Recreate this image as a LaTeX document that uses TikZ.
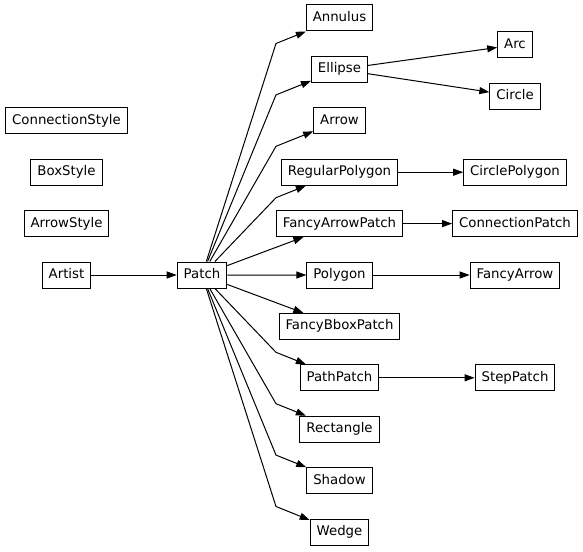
\documentclass[tikz,border=0pt]{standalone}
\usepackage{fontspec}
\setmainfont{DejaVu Sans}
\usetikzlibrary{arrows.meta,calc}

\begin{document}
\begin{tikzpicture}[
        x=1pt, y=1pt,
        node distance=51.4pt,
        box/.style={rectangle, draw, line width=1pt, minimum height=26pt, inner xsep=6.5pt, text height=10pt, text depth=3pt, font=\fontsize{13.3}{16}\selectfont},
        arrow/.style={-{Triangle[length=10pt,width=7pt]}, line width=1pt}
    ]
    \useasboundingbox (0,0) rectangle (583,-551);

    % Left column
    \node[box] (artist) at (66.5,-275) {Artist};
    \node[box, above of=artist] (arrowstyle) {ArrowStyle};
    \node[box, above of=arrowstyle] (boxstyle) {BoxStyle};
    \node[box, above of=boxstyle] (connstyle) {ConnectionStyle};
    \node[box, right of=artist, xshift=84.1pt] (patch) {Patch};

    % Subclasses of Patch
    \node[box] (annulus) at (339.5,-18) {Annulus};
    \node[box, below of=annulus] (ellipse) {Ellipse};
    \node[box, below of=ellipse] (arrowcls) {Arrow};
    \node[box, below of=arrowcls] (regpoly) {RegularPolygon};
    \node[box, below of=regpoly] (fancyarrowpatch) {FancyArrowPatch};
    \node[box, below of=fancyarrowpatch] (polygon) {Polygon};
    \node[box, below of=polygon] (fancybbox) {FancyBboxPatch};
    \node[box, below of=fancybbox] (pathpatch) {PathPatch};
    \node[box, below of=pathpatch] (rectangle) {Rectangle};
    \node[box, below of=rectangle] (shadow) {Shadow};
    \node[box, below of=shadow] (wedge) {Wedge};

    % Right column
    \node[box] (arc) at (515,-45) {Arc};
    \node[box] (circle) at (515,-96) {Circle};
    \node[box, right of=regpoly, xshift=124.1pt] (circpoly) {CirclePolygon};
    \node[box, right of=fancyarrowpatch, xshift=124.1pt] (connpatch) {ConnectionPatch};
    \node[box, right of=polygon, xshift=124.1pt] (fancyarrow) {FancyArrow};
    \node[box, right of=pathpatch, xshift=124.1pt] (steppatch) {StepPatch};

    \coordinate (bend) at (276,0);

    % Arrows from Patch
    \draw[arrow] (artist) -- (patch);
    \draw[arrow] (patch) -- ($(annulus.south -| bend)+(0,-12)$) -- (annulus);
    \draw[arrow] (patch) -- ($(ellipse.south -| bend)+(0,-12)$) -- (ellipse);
    \draw[arrow] (patch) -- ($(arrowcls.south -| bend)+(0,-12)$) -- (arrowcls);
    \draw[arrow] (patch) -- ($(regpoly.south -| bend)+(0,-12)$) -- (regpoly);
    \draw[arrow] (patch) -- (fancyarrowpatch);
    \draw[arrow] (patch) -- (polygon);
    \draw[arrow] (patch) -- (fancybbox);
    \draw[arrow] (patch) -- ($(pathpatch.north -| bend)+(0,12)$) -- (pathpatch);
    \draw[arrow] (patch) -- ($(rectangle.north -| bend)+(0,12)$) -- (rectangle);
    \draw[arrow] (patch) -- ($(shadow.north -| bend)+(0,12)$) -- (shadow);
    \draw[arrow] (patch) -- ($(wedge.north -| bend)+(0,12)$) -- (wedge);

    % Arrows to right column
    \draw[arrow] (ellipse) -- (arc);
    \draw[arrow] (ellipse) -- (circle);
    \draw[arrow] (regpoly) -- (circpoly);
    \draw[arrow] (fancyarrowpatch) -- (connpatch);
    \draw[arrow] (polygon) -- (fancyarrow);
    \draw[arrow] (pathpatch) -- (steppatch);

\end{tikzpicture}
\end{document}
